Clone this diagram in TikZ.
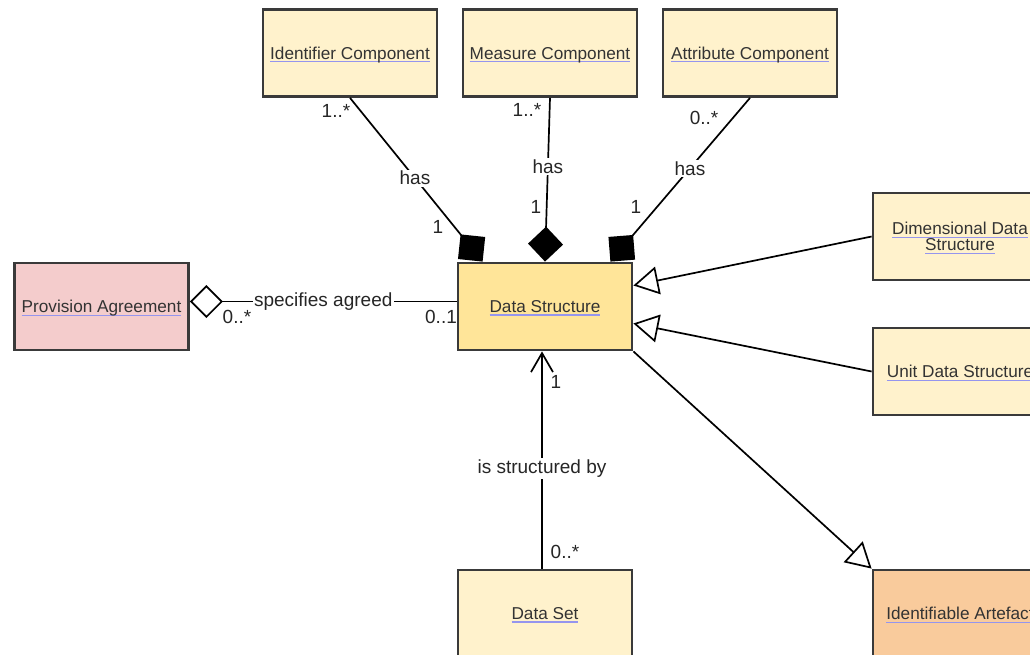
\documentclass[tikz,border=0pt]{standalone}
\usepackage{fontspec}
\setmainfont{Liberation Sans}
\usetikzlibrary{arrows.meta, positioning}

\definecolor{cream}{HTML}{FFF2CC}
\definecolor{gold}{HTML}{FFE599}
\definecolor{rose}{HTML}{F4CCCC}
\definecolor{peach}{HTML}{F9CB9C}
\definecolor{edgegray}{HTML}{3A3A3A}
\definecolor{txtgray}{HTML}{333333}
\definecolor{lnkblue}{HTML}{9595EE}

\newlength{\lnkw}
\newcommand{\lnk}[1]{\settowidth{\lnkw}{#1}\leavevmode\rlap{\color{lnkblue}\rule[-3pt]{\lnkw}{1.2pt}}#1}

\tikzset{
  cls/.style={draw=edgegray, line width=2.8pt, fill=cream, minimum width=174pt, minimum height=87pt,
    inner sep=0pt, text depth=0pt, text=txtgray, font=\fontsize{17.2}{16}\selectfont, align=center},
  lbl/.style={font=\fontsize{19}{20}\selectfont, text=black!85, inner sep=1.5pt},
  rel/.style={line width=1.7pt, black},
  compo/.style={rel, -{Diamond[length=35pt, width=35pt]}},
  aggr/.style={rel, {Diamond[length=33pt, width=33pt, fill=white]}-},
  gen/.style={rel, -{Triangle[length=25pt, width=28pt, fill=white]}},
  nav/.style={rel, -{Straight Barb[length=19pt, width=22pt]}},
}

\begin{document}
\begin{tikzpicture}[x=1pt, y=-1pt]
\useasboundingbox (0,0) rectangle (1030,655);
\clip (0,0) rectangle (1030,655);

\foreach \k/\nm/\txt in {0/ic/Identifier Component, 1/mc/Measure Component, 2/ac/Attribute Component} {
  \node[cls] (\nm) at ({350+200*\k}, 53) {\lnk{\txt}};
}
\node[cls, fill=rose] (pa) at (101.5, 306.5) {\lnk{Provision Agreement}};
\node[cls, fill=gold] (ds) at (545, 306.5) {\lnk{Data Structure}};
\node[cls] (dds) at (960, 236.5) {\lnk{Dimensional Data}\\\lnk{Structure}};
\node[cls] (uds) at (960, 371.5) {\lnk{Unit Data Structure}};
\node[cls] (dset) at (545, 613.5) {\lnk{Data Set}};
\node[cls, fill=peach] (ia) at (960, 613.5) {\lnk{Identifiable Artefact}};

% associations
\draw[compo] (ic.south) -- node[lbl, fill=white, pos=0.49] (hasIC) {has} ([xshift=26pt]ds.north west);
\draw[compo] (mc.south) -- node[lbl, fill=white, pos=0.42] (hasMC) {has} (ds.north);
\draw[compo] (ac.south) -- node[lbl, fill=white, pos=0.43] (hasAC) {has} ([xshift=-23pt]ds.north east);
\draw[aggr] ([yshift=5pt]pa.east) -- node[lbl, fill=white, pos=0.5] (spec) {specifies agreed} ([yshift=5pt]ds.west);
\draw[nav] ([xshift=-3pt]dset.north) -- node[lbl, fill=white, pos=0.46] (struct) {is structured by} ([xshift=-3pt]ds.south);

% generalisations
\draw[gen] (dds.west) -- ([yshift=21pt]ds.east);
\draw[gen] (uds.west) -- ([yshift=-17pt]ds.east);
\draw[gen] (ds.south east) -- (ia.north west);

% multiplicities
\node[lbl] (mIC) at (336, 111) {1..*};
\node[lbl] (mIC1) at (438, 227) {1};
\node[lbl] (mMC) at (527, 110) {1..*};
\node[lbl] (mMC1) at (536, 207) {1};
\node[lbl] (mAC) at (704, 118) {0..*};
\node[lbl] (mAC1) at (636, 207) {1};
\node[lbl] (mPA) at (237, 317) {0..*};
\node[lbl] (mDS) at (441, 317) {0..1};
\node[lbl] (mStr) at (556, 382) {1};
\node[lbl] (mSet) at (565, 552) {0..*};
\end{tikzpicture}
\end{document}
